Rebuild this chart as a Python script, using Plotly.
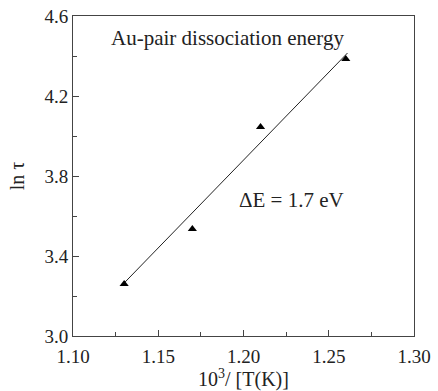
import plotly.graph_objects as go

inv_T = [1.13, 1.17, 1.21, 1.26]
ln_tau = [3.26, 3.535, 4.045, 4.385]
fit_x = [1.13, 1.261]
fit_y = [3.265, 4.415]
x_ticks = [1.10, 1.15, 1.20, 1.25, 1.30]
y_ticks = [3.0, 3.4, 3.8, 4.2, 4.6]

font = "Liberation Serif"
fig = go.Figure()
fig.add_trace(go.Scatter(x=fit_x, y=fit_y, mode="lines",
                         line=dict(color="#222", width=1), showlegend=False))
fig.add_trace(go.Scatter(x=inv_T, y=ln_tau, mode="markers",
                         marker=dict(symbol="triangle-up", color="black", size=8),
                         showlegend=False))
axis_common = dict(showline=True, linecolor="#444", linewidth=1, mirror=True,
                   ticks="inside", ticklen=6, tickcolor="#444", showgrid=False,
                   zeroline=False, automargin=False,
                   tickfont=dict(family=font, size=19, color="#222"))
fig.update_xaxes(range=[1.10, 1.30], tickvals=x_ticks,
                 ticktext=[f"{v:.2f}" for v in x_ticks],
                 ticklabelstandoff=3,
                 minor=dict(ticks="inside", ticklen=4, dtick=0.025, tick0=1.1, tickcolor="#444"),
                 title=dict(text="10<sup>3</sup>/ [T(K)]", font=dict(family=font, size=20, color="#222"), standoff=4),
                 **axis_common)
fig.update_yaxes(range=[3.0, 4.6], tickvals=y_ticks,
                 ticktext=[f"{v:.1f}" for v in y_ticks],
                 minor=dict(ticks="inside", ticklen=4, dtick=0.2, tick0=3.0, tickcolor="#444"),
                 title=dict(text="ln τ", font=dict(family=font, size=20, color="#222"), standoff=14),
                 **axis_common)
fig.add_annotation(x=0.453, y=0.931, xref="paper", yref="paper", text="Au-pair dissociation energy",
                   xanchor="center", yanchor="middle",
                   showarrow=False, font=dict(family=font, size=21, color="#222"))
fig.add_annotation(x=1.2284, y=3.68, text="ΔE = 1.7 eV", showarrow=False,
                   xanchor="center", yanchor="middle",
                   font=dict(family=font, size=21, color="#222"))
fig.update_layout(width=438, height=391, margin=dict(l=73, r=24, t=16, b=55),
                  plot_bgcolor="white", paper_bgcolor="white")
fig.write_html("out.html", config={"displayModeBar": False},
               post_script="document.body.style.margin='0';")
